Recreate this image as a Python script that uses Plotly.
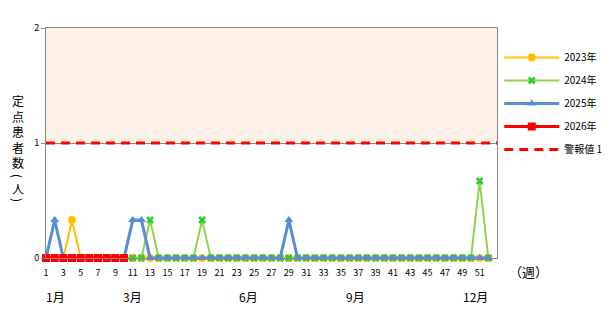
import plotly.graph_objects as go

weeks = list(range(1, 53))
y2023 = [0]*52
y2023[4-1] = 0.33
y2024 = [0]*52
for w, v in [(13, 0.33), (19, 0.33), (51, 0.67)]:
    y2024[w-1] = v
y2025 = [0]*52
for w in [2, 11, 12, 29]:
    y2025[w-1] = 0.33
weeks2026 = list(range(1, 11))
y2026 = [0]*10
alert_value = 1
tick_weeks = list(range(1, 53, 2))
month_labels = ["1月", "3月", "6月", "9月", "12月"]
month_pos = [2.04, 11.0, 24.4, 36.7, 50.5]

FONT = "Noto Sans CJK JP"
fig = go.Figure()

def add(x, y, name, color, width, symbol, size, mcolor):
    fig.add_trace(go.Scatter(x=x, y=y, name=name, mode="lines+markers", legendgroup=name,
                             cliponaxis=False,
                             line=dict(color=color, width=width),
                             marker=dict(symbol=symbol, size=size, color=mcolor)))

add(weeks, y2023, "2023年", "#FFC000", 2, "circle", 8, "#FFC000")
add(weeks, y2024, "2024年", "#92D050", 2, "x", 7, "#33CC33")
add(weeks, y2025, "2025年", "#558ED5", 3, "triangle-up", 8, "#558ED5")
add(weeks2026, y2026, "2026年", "#FF0000", 3, "square", 8, "#FF0000")
fig.add_trace(go.Scatter(x=[1, 53], y=[alert_value, alert_value], name="警報値 1", mode="lines",
                         legendgroup="alert", cliponaxis=False,
                         line=dict(color="#FF0000", width=3, dash="9px,6px")))

fig.add_shape(type="rect", xref="x", yref="y", x0=1, x1=53, y0=alert_value, y1=2,
              fillcolor="#FDF1E7", line=dict(width=0), layer="below")

for lab, pos in zip(month_labels, month_pos):
    fig.add_annotation(x=pos, y=0, xref="x", yref="paper", yanchor="middle", yshift=-38,
                       text=lab, showarrow=False, font=dict(family=FONT, size=12, color="#000"))

fig.add_annotation(x=1.0, y=0, xref="paper", yref="paper", xanchor="left", yanchor="middle",
                   xshift=10, yshift=-13,
                   text="（週）", showarrow=False, font=dict(family=FONT, size=13, color="#000"))

# vertical y-axis title
fig.add_annotation(x=0, y=(258 - 131) / 230, xref="paper", yref="paper",
                   xanchor="center", yanchor="middle", xshift=-28,
                   text="<br>".join(list("定点患者数")), showarrow=False,
                   font=dict(family=FONT, size=12, color="#000"))
for ch, py in [("(", 176), ("人", 188), (")", 200)]:
    fig.add_annotation(x=0, y=(258 - py) / 230, xref="paper", yref="paper",
                       xanchor="center", yanchor="middle", xshift=-28,
                       text=ch, showarrow=False, textangle=90 if ch in "()" else 0,
                       font=dict(family=FONT, size=12, color="#000"))

fig.update_layout(
    width=610, height=312,
    margin=dict(l=46, r=113, t=28, b=54, autoexpand=False),
    plot_bgcolor="white", paper_bgcolor="white",
    font=dict(family=FONT, size=9, color="#000"),
    showlegend=True,
    legend=dict(x=1.005, y=0.935, xanchor="left", yanchor="top",
                font=dict(family=FONT, size=10), tracegroupgap=4, itemwidth=55,
                traceorder="grouped"),
    xaxis=dict(range=[1, 53], tickvals=tick_weeks, ticktext=[str(t) for t in tick_weeks],
               showgrid=False, zeroline=False, showline=True, linecolor="#888", mirror=True,
               ticks="outside", ticklen=6, tickcolor="rgba(0,0,0,0)", tickfont=dict(size=9)),
    yaxis=dict(range=[0, 2], tickvals=[0, 1, 2], showgrid=True, gridcolor="#888",
               zeroline=False, showline=True, linecolor="#888", mirror=True,
               ticks="outside", ticklen=4, tickcolor="#888", tickfont=dict(size=9)),
)

fig.write_html("out.html")
